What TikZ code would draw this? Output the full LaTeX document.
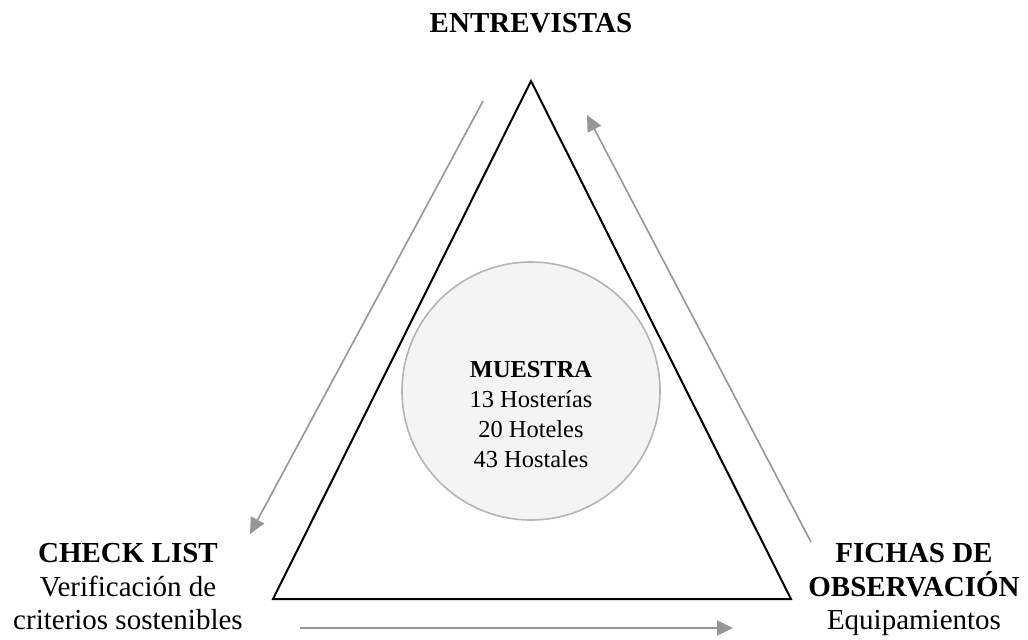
\documentclass[tikz,border=0pt]{standalone}
\usepackage{fontspec}
\setmainfont{Liberation Serif}
\usetikzlibrary{arrows.meta,positioning,calc}
\definecolor{flowgray}{RGB}{150,150,150}
\definecolor{ringgray}{RGB}{180,180,185}
\definecolor{sampfill}{RGB}{244,244,245}
\tikzset{
    flow/.style={-{Triangle[length=8pt, width=7.5pt]}, line width=0.8pt, flowgray},
    sample/.style={draw=ringgray, line width=0.8pt, fill=sampfill, circle, minimum size=129pt, inner sep=0pt},
    method/.style={align=center, inner sep=0pt, font=\fontsize{14.5}{16.8}\selectfont},
    edge/.style={line width=1pt, black, line join=miter}
}

\begin{document}
\begin{tikzpicture}[x=0.5pt, y=-0.5pt]
                    \useasboundingbox (0,0) rectangle (1028,639);
                    % corners of the triangle
                    \coordinate (top) at (531,81);
                    \coordinate (left) at (273,599);
                    \coordinate (right) at (791,599);
                    \draw[edge] (top) -- (left) -- (right) -- cycle;

                    \node[sample] (muestra) at (531,391) {};
                    \node[method, anchor=north, font=\fontsize{12.2}{15}\selectfont] (muestratxt) at (531,361)
                        {\textbf{MUESTRA}\\13 Hosterías\\20 Hoteles\\43 Hostales};

                    \node[method, anchor=base] (entrev) at (531,32) {\textbf{ENTREVISTAS}};
                    \node[method, anchor=north] (check) at (128,543)
                        {\textbf{CHECK LIST}\\Verificación de\\criterios sostenibles};
                    \node[method, anchor=north] (fichas) at (914,543)
                        {\textbf{FICHAS DE}\\\textbf{OBSERVACIÓN}\\Equipamientos};

                    % arrows along the sides
                    \coordinate (a1) at (483,101);
                    \coordinate (b1) at (250,534);
                    \coordinate (a2) at (300,628);
                    \coordinate (b2) at (733,628);
                    \coordinate (a3) at (811,542);
                    \coordinate (b3) at (587,115);
                    \draw[flow] (a1) -- (b1);
                    \draw[flow] (a2) -- (b2);
                    \draw[flow] (a3) -- (b3);
                \end{tikzpicture}
\end{document}
